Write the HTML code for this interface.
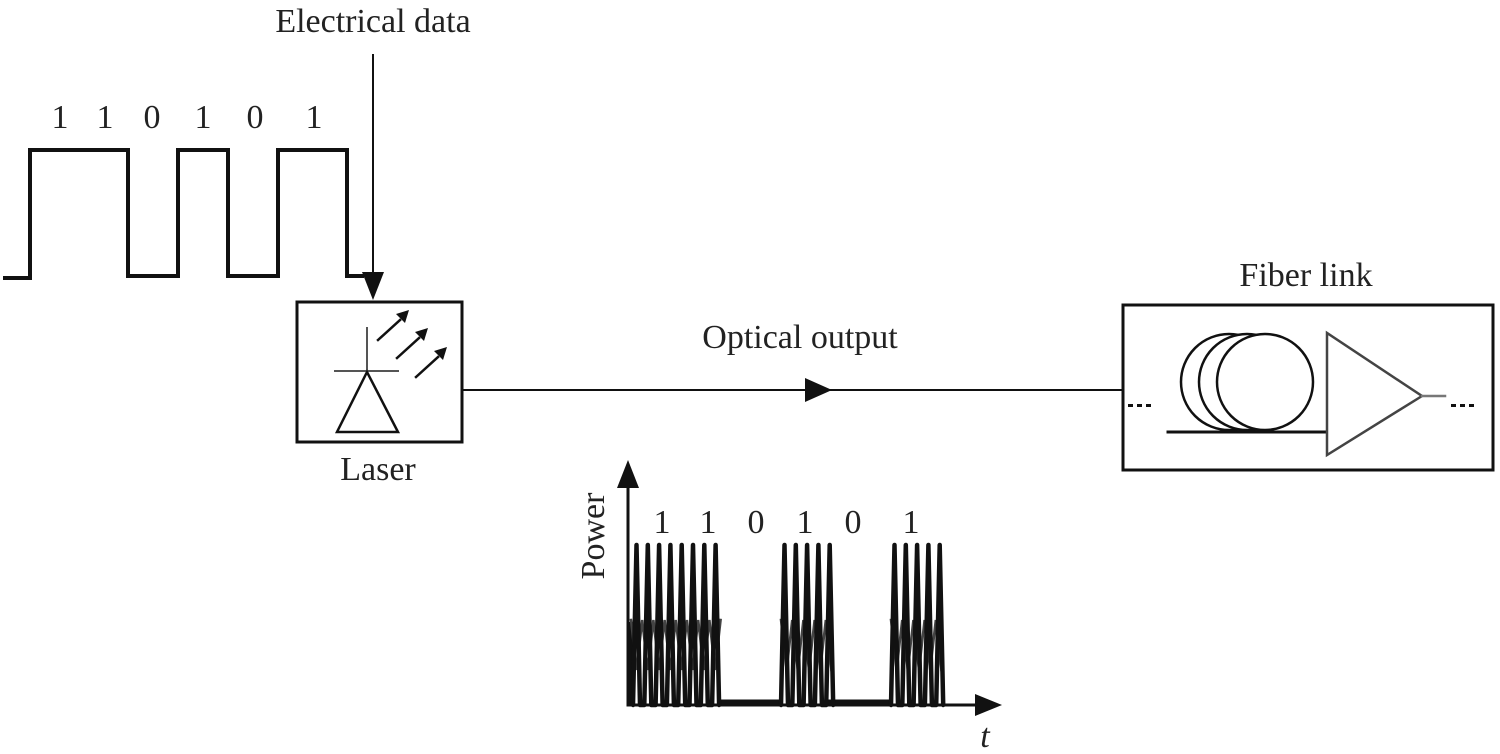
<!DOCTYPE html>
<html><head><meta charset="utf-8"><style>
html,body{margin:0;padding:0;background:#fff;}
svg{display:block}
text{font-family:"Liberation Serif",serif;fill:#222}
</style></head><body>
<svg width="1500" height="754" viewBox="0 0 1500 754" xmlns="http://www.w3.org/2000/svg">
<g stroke="#111" fill="none" stroke-linecap="square">
<!-- electrical signal -->
<polyline stroke-width="4" points="5,278 30,278 30,150 128,150 128,276 178,276 178,150 228,150 228,276 278,276 278,150 347,150 347,276 362,276"/>
<line x1="373" y1="55" x2="373" y2="278" stroke-width="2"/>
<!-- laser box -->
<rect x="297" y="302" width="165" height="140" stroke-width="3"/>
<line x1="367" y1="328" x2="367" y2="372" stroke-width="2" stroke="#555"/>
<line x1="335" y1="371" x2="398" y2="371" stroke-width="2" stroke="#555"/>
<polygon points="367,372 337,432 398,432" stroke-width="2.5"/>
<line x1="378" y1="340" x2="400" y2="320" stroke-width="2.5"/>
<line x1="397" y1="358" x2="419" y2="338" stroke-width="2.5"/>
<line x1="416" y1="377" x2="438" y2="357" stroke-width="2.5"/>
<!-- optical line -->
<line x1="462" y1="390" x2="1123" y2="390" stroke-width="2"/>
<!-- fiber box -->
<rect x="1123" y="305" width="370" height="165" stroke-width="3"/>
<circle cx="1229" cy="382" r="48" stroke-width="2.5"/>
<circle cx="1247" cy="382" r="48" stroke-width="2.5" fill="#fff"/>
<circle cx="1265" cy="382" r="48" stroke-width="2.5" fill="#fff"/>
<line x1="1168" y1="432" x2="1327" y2="432" stroke-width="3"/>
<polygon points="1327,333 1327,455 1422,396" stroke-width="2.5" fill="#fff" stroke="#444"/>
<line x1="1422" y1="396" x2="1445" y2="396" stroke-width="2.5" stroke="#777"/>
<!-- plot axes -->
<line x1="628" y1="705" x2="628" y2="478" stroke-width="3"/>
<line x1="628" y1="705" x2="985" y2="705" stroke-width="3"/>
<line x1="720" y1="702" x2="780" y2="702" stroke-width="5"/>
<line x1="830" y1="702" x2="888" y2="702" stroke-width="5"/>
<rect x="629" y="622" width="5" height="82" fill="#111" stroke="none"/>
<path stroke-width="2.5" stroke="#444" d="M631,620 l5.6,50 l5.6,-50 l5.6,50 l5.6,-50 l5.6,50 l5.6,-50 l5.6,50 l5.6,-50 l5.6,50 l5.6,-50 l5.6,50 l5.6,-50 l5.6,50 l5.6,-50 l5.6,50 l5.6,-50
M781,620 l5.6,50 l5.6,-50 l5.6,50 l5.6,-50 l5.6,50 l5.6,-50 l5.6,50 l5.6,-50 l5.6,50
M891,620 l5.6,50 l5.6,-50 l5.6,50 l5.6,-50 l5.6,50 l5.6,-50 l5.6,50 l5.6,-50 l5.6,50"/>
<path stroke-width="4.5" stroke-linejoin="round" stroke-linecap="round" d="M633,705 l3.5,-160 l3.5,160 l4.3,0 l3.5,-160 l3.5,160 l4.3,0 l3.5,-160 l3.5,160 l4.3,0 l3.5,-160 l3.5,160 l4.3,0 l3.5,-160 l3.5,160 l4.3,0 l3.5,-160 l3.5,160 l4.3,0 l3.5,-160 l3.5,160 l4.3,0 l3.5,-160 l3.5,160
M781,705 l3.5,-160 l3.5,160 l4.3,0 l3.5,-160 l3.5,160 l4.3,0 l3.5,-160 l3.5,160 l4.3,0 l3.5,-160 l3.5,160 l4.3,0 l3.5,-160 l3.5,160
M891,705 l3.5,-160 l3.5,160 l4.3,0 l3.5,-160 l3.5,160 l4.3,0 l3.5,-160 l3.5,160 l4.3,0 l3.5,-160 l3.5,160 l4.3,0 l3.5,-160 l3.5,160"/>
</g>
<g fill="#111">
<polygon points="362,272 384,272 373,300"/>
<polygon points="805,378 805,402 832,390"/>
<polygon points="617,488 639,488 628,460"/>
<polygon points="975,694 975,716 1002,705"/>
<polygon points="396,314 409,310 405,323"/>
<polygon points="415,332 428,328 424,341"/>
<polygon points="434,351 447,347 443,360"/>
<rect x="1128" y="404" width="5" height="3"/><rect x="1137" y="404" width="5" height="3"/><rect x="1146" y="404" width="5" height="3"/>
<rect x="1451" y="404" width="5" height="3"/><rect x="1460" y="404" width="5" height="3"/><rect x="1469" y="404" width="5" height="3"/>
</g>
<g font-size="34">
<text x="373" y="32" text-anchor="middle">Electrical data</text>
<text x="60" y="128" text-anchor="middle">1</text>
<text x="105" y="128" text-anchor="middle">1</text>
<text x="152" y="128" text-anchor="middle">0</text>
<text x="203" y="128" text-anchor="middle">1</text>
<text x="255" y="128" text-anchor="middle">0</text>
<text x="314" y="128" text-anchor="middle">1</text>
<text x="378" y="480" text-anchor="middle">Laser</text>
<text x="800" y="348" text-anchor="middle">Optical output</text>
<text x="1306" y="286" text-anchor="middle">Fiber link</text>
<text x="662" y="533" text-anchor="middle">1</text>
<text x="708" y="533" text-anchor="middle">1</text>
<text x="756" y="533" text-anchor="middle">0</text>
<text x="805" y="533" text-anchor="middle">1</text>
<text x="853" y="533" text-anchor="middle">0</text>
<text x="911" y="533" text-anchor="middle">1</text>
<text x="604" y="536" text-anchor="middle" transform="rotate(-90 604 536)">Power</text>
<text x="985" y="747" text-anchor="middle" font-style="italic">t</text>
</g>
</svg>
</body></html>
